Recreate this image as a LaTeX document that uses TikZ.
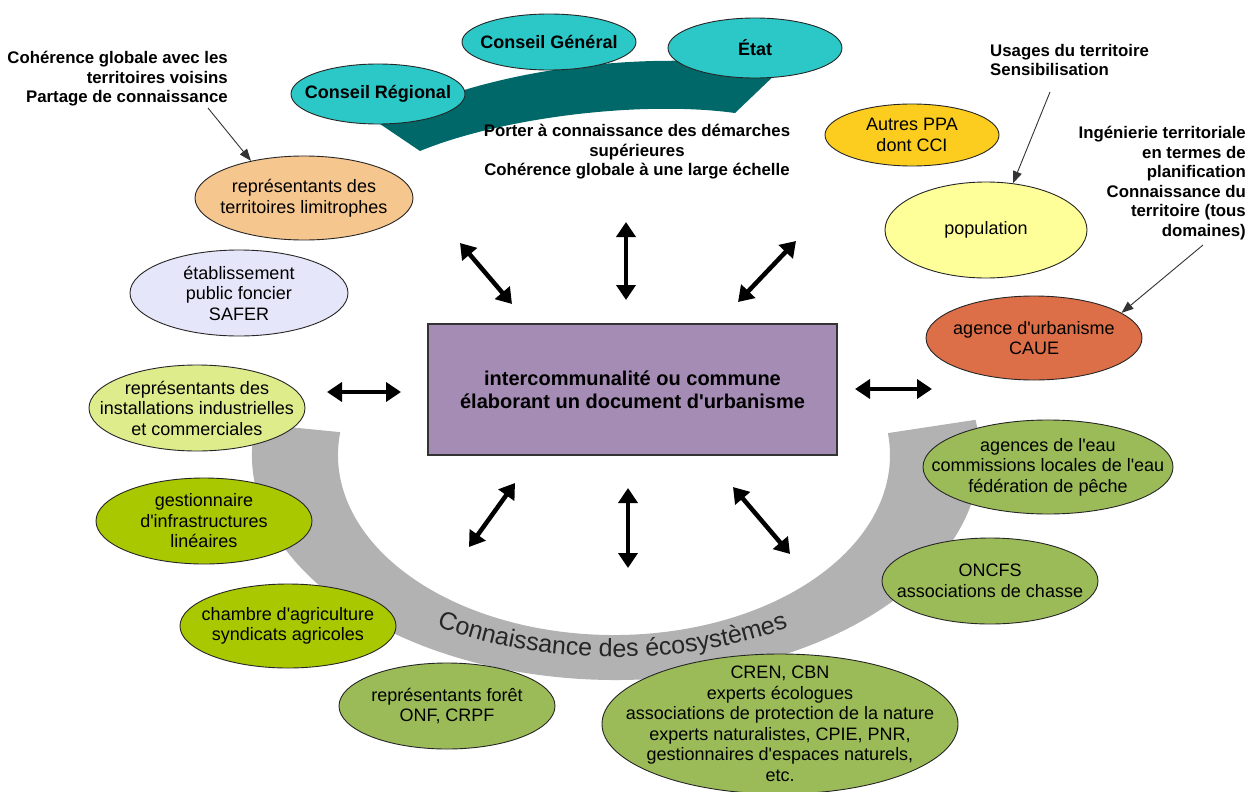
\documentclass[tikz,border=0pt]{standalone}
\usepackage{fontspec}
\setmainfont{Liberation Sans}
\usetikzlibrary{shapes.geometric, arrows.meta, decorations.text}

\definecolor{tealbub}{RGB}{44,200,200}
\definecolor{tealband}{RGB}{0,104,104}
\definecolor{tanbub}{RGB}{246,198,143}
\definecolor{lavbub}{RGB}{230,230,250}
\definecolor{limebub}{RGB}{222,236,140}
\definecolor{leafbub}{RGB}{170,200,0}
\definecolor{olivebub}{RGB}{155,187,89}
\definecolor{goldbub}{RGB}{252,204,30}
\definecolor{paleybub}{RGB}{255,255,153}
\definecolor{rustbub}{RGB}{220,110,72}
\definecolor{purplebox}{RGB}{165,140,180}
\definecolor{ringgrey}{RGB}{178,178,178}

\newcommand{\ap}{\textquotesingle}

\tikzset{
  bubble/.style={ellipse, draw=black!85, line width=0.9pt, inner sep=0pt},
  txt/.style={align=center, font=\fontsize{18}{20.5}\selectfont},
  boldtxt/.style={align=center, font=\fontsize{18}{20.5}\selectfont\bfseries},
  note/.style={font=\fontsize{16.8}{19.6}\selectfont\bfseries, inner sep=0pt},
  dbl/.style={line width=4.5pt, {Triangle[length=15pt,width=19pt]}-{Triangle[length=15pt,width=19pt]}},
  pointer/.style={draw=black!80, line width=0.9pt, -{Triangle[length=12pt,width=9pt]}}
}

\begin{document}
\begin{tikzpicture}[x=1pt, y=-1pt]
\useasboundingbox (0,0) rectangle (1253,792);
\fill[white] (0,0) rectangle (1253,792);

% bands behind the bubbles
\fill[tealband] (420,151) .. controls (500,118) and (640,100) .. (735,113)
  -- (780,70) .. controls (680,50) and (500,60) .. (380,124) -- cycle;
\fill[ringgrey] (255.5,423.7) arc[start angle=188, end angle=-9, x radius=364, y radius=225]
  -- (887.9,433.1) arc[start angle=-7, end angle=187.3, x radius=276, y radius=180] -- cycle;
\path[decorate, decoration={text along path, text align=center,
  text={|\fontsize{25}{25}\selectfont\color{black!85}|Connaissance des écosystèmes}}]
  (615,455) ++(124:335 and 202) arc[start angle=124, end angle=57, x radius=335, y radius=202];

% upper bubbles
\node[bubble, fill=tealbub, minimum width=174pt, minimum height=60pt,
  label={[boldtxt]center:Conseil Régional}] (creg) at (378,94) {};
\node[bubble, fill=tealbub, minimum width=174pt, minimum height=56pt,
  label={[boldtxt]center:Conseil Général}] (cgen) at (549,42) {};
\node[bubble, fill=tealbub, minimum width=174pt, minimum height=60pt,
  label={[boldtxt]center:État}] (etat) at (755,48) {};
\node[bubble, fill=tanbub, minimum width=218pt, minimum height=84pt,
  label={[txt]center:représentants des\\territoires limitrophes}] (limit) at (304,198) {};
\node[bubble, fill=lavbub, minimum width=218pt, minimum height=86pt,
  label={[txt]center:établissement\\public foncier\\SAFER}] (etab) at (239,293) {};
\node[bubble, fill=goldbub, minimum width=174pt, minimum height=62pt,
  label={[txt]center:Autres PPA\\dont CCI}] (ppa) at (912,135) {};
\node[bubble, fill=paleybub, minimum width=202pt, minimum height=96pt,
  label={[txt]center:population}] (pop) at (986,230) {};
\node[bubble, fill=rustbub, minimum width=216pt, minimum height=84pt,
  label={[txt]center:agence d\ap urbanisme\\CAUE}] (urba) at (1034,338) {};

% lower bubbles
\node[bubble, fill=limebub, minimum width=216pt, minimum height=86pt,
  label={[txt]center:représentants des\\installations industrielles\\et commerciales}] (indus) at (197,408) {};
\node[bubble, fill=leafbub, minimum width=216pt, minimum height=86pt,
  label={[txt]center:gestionnaire\\d\ap infrastructures\\linéaires}] (infra) at (204,521) {};
\node[bubble, fill=leafbub, minimum width=216pt, minimum height=84pt,
  label={[txt]center:chambre d\ap agriculture\\syndicats agricoles}] (agri) at (288,626) {};
\node[bubble, fill=olivebub, minimum width=216pt, minimum height=86pt,
  label={[txt]center:représentants forêt\\ONF, CRPF}] (foret) at (447,706) {};
\node[bubble, fill=olivebub, minimum width=356pt, minimum height=140pt,
  label={[txt]center:CREN, CBN\\experts écologues\\associations de protection de la nature\\experts naturalistes, CPIE, PNR,\\gestionnaires d\ap espaces naturels,\\etc.}] (cren) at (780,724) {};
\node[bubble, fill=olivebub, minimum width=216pt, minimum height=86pt,
  label={[txt]center:ONCFS\\associations de chasse}] (chasse) at (990,581) {};
\node[bubble, fill=olivebub, minimum width=250pt, minimum height=94pt,
  label={[txt]center:agences de l\ap eau\\commissions locales de l\ap eau\\fédération de pêche}] (eau) at (1048,467) {};

% centre
\node[draw=black!80, line width=1.2pt, fill=purplebox, minimum width=409pt, minimum height=131pt,
  font=\fontsize{20}{23}\selectfont\bfseries, align=center] (box) at (632.5,389.5)
  {intercommunalité ou commune\\élaborant un document d\ap urbanisme};

% notes
\node[note, align=right, anchor=east] (coh) at (228,79)
  {Cohérence globale avec les\\territoires voisins\\Partage de connaissance};
\node[note, align=center] (porter) at (637,152)
  {Porter à connaissance des démarches\\supérieures\\Cohérence globale à une large échelle};
\node[note, align=left, anchor=west] (usages) at (990,60)
  {Usages du territoire\\Sensibilisation};
\node[note, align=right, anchor=east] (inge) at (1246,183)
  {Ingénierie territoriale\\en termes de\\planification\\Connaissance du\\territoire (tous\\domaines)};

\coordinate (cohfoot) at (208,108);
\coordinate (usagesfoot) at (1050,92);
\coordinate (ingefoot) at (1203,245);
\draw[pointer] (cohfoot) -- (limit.145);
\draw[pointer] (usagesfoot) -- (pop.60);
\draw[pointer] (ingefoot) -- (urba.16);

% exchanges with the centre
\coordinate (nwA) at (460,243);  \coordinate (nwB) at (512,304);
\coordinate (nA) at (626,222);   \coordinate (nB) at (626,300);
\coordinate (neA) at (796,241);  \coordinate (neB) at (738,302);
\coordinate (wA) at (327,392);   \coordinate (wB) at (401,392);
\coordinate (eA) at (855,389);   \coordinate (eB) at (932,389);
\coordinate (swA) at (515,483);  \coordinate (swB) at (469,547);
\coordinate (sA) at (628,488);   \coordinate (sB) at (628,568);
\coordinate (seA) at (733,487);  \coordinate (seB) at (790,554);
\draw[dbl] (nwA) -- (nwB);
\draw[dbl] (nA) -- (nB);
\draw[dbl] (neA) -- (neB);
\draw[dbl] (wA) -- (wB);
\draw[dbl] (eA) -- (eB);
\draw[dbl] (swA) -- (swB);
\draw[dbl] (sA) -- (sB);
\draw[dbl] (seA) -- (seB);
\end{tikzpicture}
\end{document}
